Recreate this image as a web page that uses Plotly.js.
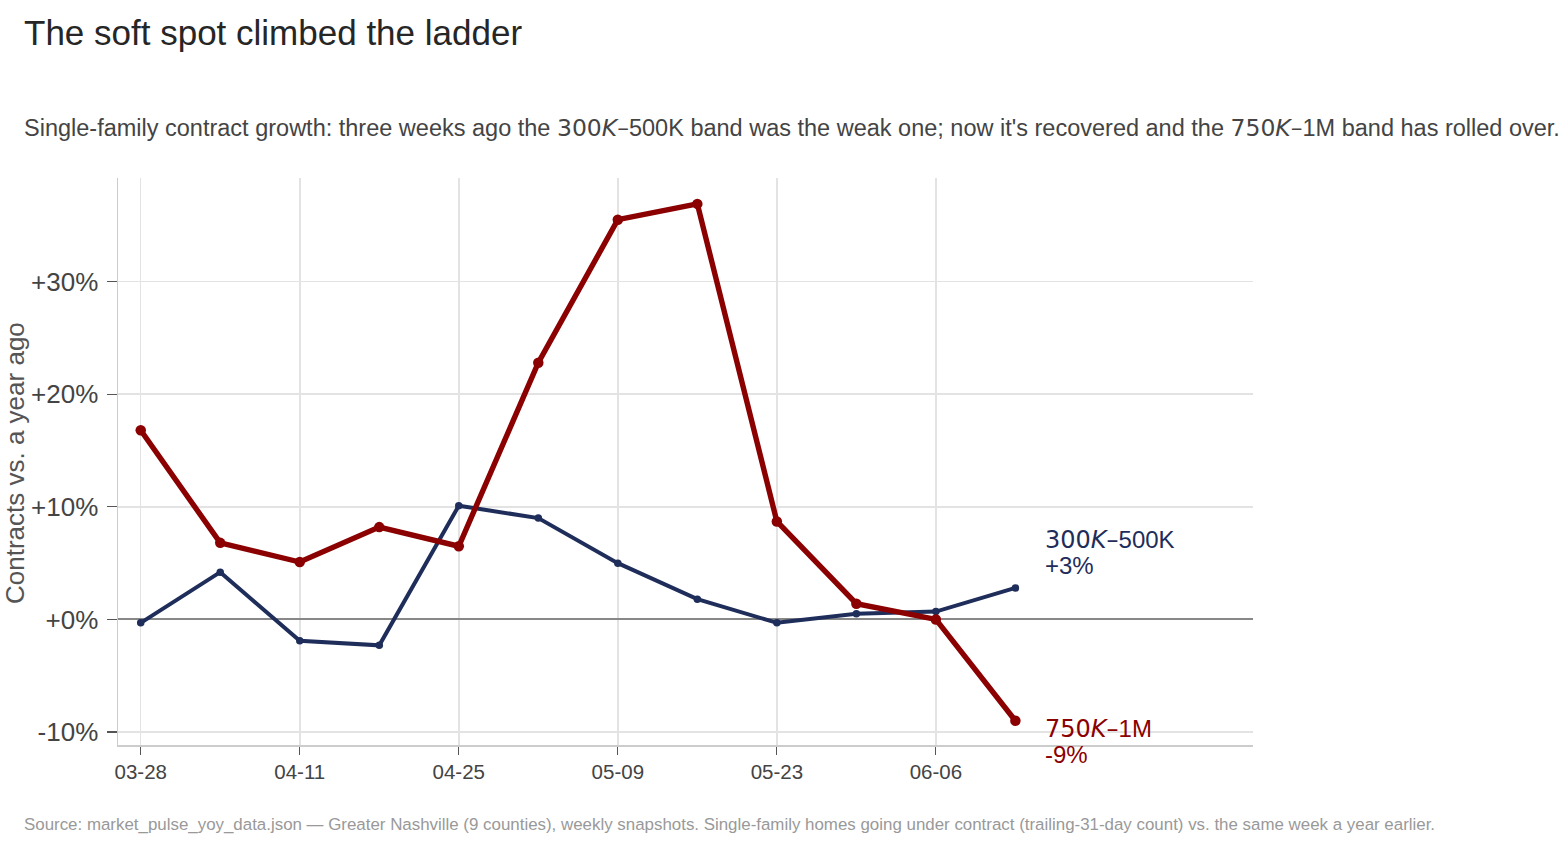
<!DOCTYPE html>
<html>
<head>
<meta charset="utf-8">
<script src="https://cdn.plot.ly/plotly-3.0.1.min.js"></script>
<style>html,body{margin:0;padding:0;background:#fff;}#chart{width:1568px;height:848px;}</style>
</head>
<body>
<div id="chart"></div>
<script>
const weeks = ["2025-03-28","2025-04-04","2025-04-11","2025-04-18","2025-04-25","2025-05-02","2025-05-09","2025-05-16","2025-05-23","2025-05-30","2025-06-06","2025-06-13"];
const band300to500 = [-0.3, 4.2, -1.9, -2.3, 10.1, 9.0, 5.0, 1.8, -0.3, 0.5, 0.7, 2.8];
const band750to1M = [16.8, 6.8, 5.1, 8.2, 6.5, 22.8, 35.5, 36.9, 8.7, 1.4, 0.0, -9.0];
const xTickVals = ["2025-03-28","2025-04-11","2025-04-25","2025-05-09","2025-05-23","2025-06-06"];
const xTickText = ["03-28","04-11","04-25","05-09","05-23","06-06"];
const yTickVals = [-10, 0, 10, 20, 30];
const yTickText = ["-10%","+0%","+10%","+20%","+30%"];
const MATH = (s) => "<span style=\"font-family:'DejaVu Sans'\">" + s + "</span>";
const labelBlueName = MATH("300<i>K</i>–") + "500K";
const labelBlueValue = "+3%";
const labelRedName = MATH("750<i>K</i>–") + "1M";
const labelRedValue = "-9%";

const BLUE = "#1f2d5a", RED = "#8b0000";
const FONT = "Liberation Sans, Arial, Helvetica, sans-serif";
const n = weeks.length - 1;

const traces = [
  {x: weeks, y: band300to500, type: "scatter", mode: "lines+markers",
   line: {color: BLUE, width: 4}, marker: {color: BLUE, size: 7.5}, hoverinfo: "skip"},
  {x: weeks, y: band750to1M, type: "scatter", mode: "lines+markers",
   line: {color: RED, width: 5.4}, marker: {color: RED, size: 10.5}, hoverinfo: "skip"}
];

function endLabel(text, yval, yshift, color) {
  return {text: text, x: weeks[n], y: yval, xref: "x", yref: "y", xanchor: "left", yanchor: "middle",
          xshift: 28, yshift: yshift, align: "left", showarrow: false,
          font: {family: FONT, size: 24, color: color}};
}

const layout = {
  width: 1568, height: 848,
  margin: {l: 118, r: 315, t: 178, b: 103},
  paper_bgcolor: "#fff", plot_bgcolor: "#fff",
  showlegend: false,
  font: {family: FONT, color: "#444"},
  title: {text: "The soft spot climbed the ladder", x: 24/1568, xref: "container", xanchor: "left",
          y: 1 - 33/848, yref: "container", yanchor: "middle",
          font: {family: FONT, size: 35, color: "#262626"}},
  xaxis: {type: "date", range: ["2025-03-26", "2025-07-03 22:00"],
          tickvals: xTickVals, ticktext: xTickText,
          showgrid: true, gridcolor: "#e3e3e3", gridwidth: 1.5,
          showline: true, linecolor: "#cccccc", linewidth: 1.5,
          ticks: "outside", ticklen: 8, tickcolor: "#555", tickwidth: 1.2,
          tickfont: {family: FONT, size: 20.5, color: "#444"}, zeroline: false},
  yaxis: {range: [-11.15, 39.2], tickvals: yTickVals, ticktext: yTickText,
          showgrid: true, gridcolor: "#e3e3e3", gridwidth: 1.5,
          showline: true, linecolor: "#cccccc", linewidth: 1.5,
          ticks: "outside", ticklen: 10, tickcolor: "#555", tickwidth: 1.2,
          ticklabelstandoff: 3,
          zeroline: true, zerolinecolor: "#888888", zerolinewidth: 2,
          tickfont: {family: FONT, size: 26, color: "#444"}},
  annotations: [
    {text: "Single-family contract growth: three weeks ago the " + MATH("300<i>K</i>–") + "500K band was the weak one; now it's recovered and the " + MATH("750<i>K</i>–") + "1M band has rolled over.",
     xref: "paper", yref: "paper", x: (22-118)/1135, y: (745-128)/567, xanchor: "left", yanchor: "middle",
     showarrow: false, font: {family: FONT, size: 23.5, color: "#444"}},
    {text: "Source: market_pulse_yoy_data.json — Greater Nashville (9 counties), weekly snapshots. Single-family homes going under contract (trailing-31-day count) vs. the same week a year earlier.",
     xref: "paper", yref: "paper", x: (22-118)/1135, y: (745-824)/567, xanchor: "left", yanchor: "middle",
     showarrow: false, font: {family: FONT, size: 16.9, color: "#999"}},
    {text: "Contracts vs. a year ago", xref: "paper", yref: "paper", x: (15-118)/1135, y: (745-463)/567,
     xanchor: "center", yanchor: "middle", textangle: -90, showarrow: false,
     font: {family: FONT, size: 26, color: "#555"}},
    endLabel(labelBlueName, band300to500[n], 48, BLUE),
    endLabel(labelBlueValue, band300to500[n], 22, BLUE),
    endLabel(labelRedName, band750to1M[n], -8, RED),
    endLabel(labelRedValue, band750to1M[n], -34, RED)
  ]
};

Plotly.newPlot("chart", traces, layout, {displayModeBar: false, staticPlot: true});
</script>
</body>
</html>
